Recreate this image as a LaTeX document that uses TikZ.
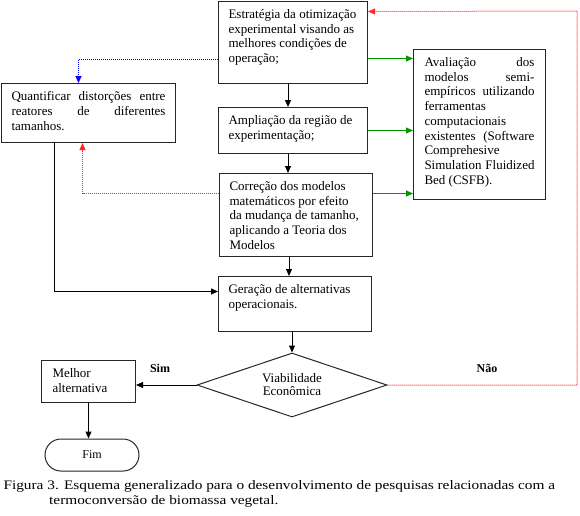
\documentclass[tikz,border=0pt]{standalone}
\usepackage{fontspec}
\setmainfont{Liberation Serif}
\newfontfamily\capfont[FakeStretch=1.18]{Liberation Serif}
\usetikzlibrary{arrows.meta,shapes.geometric}
\newcommand\bxt[3]{\parbox[c][#2][t]{#1}{\raggedright #3}}
\newcommand\jl[1]{\makebox[\linewidth][s]{#1}}
\definecolor{gr}{RGB}{0,150,0}
\definecolor{rd}{RGB}{255,40,40}
\definecolor{bl}{RGB}{0,0,255}
\tikzset{
  box/.style={draw=black!85, line width=1pt, inner xsep=10pt, inner ysep=8pt, anchor=north west, font=\fontsize{13}{14.7}\selectfont},
  arr/.style={-{Triangle[length=7pt,width=6pt]}, line width=1pt, black},
  garr/.style={-{Triangle[length=7pt,width=6pt]}, line width=1pt, gr},
  dotr/.style={-{Triangle[length=7pt,width=6pt]}, line width=1pt, rd, dash pattern=on 1pt off 1pt},
  dotb/.style={-{Triangle[length=7pt,width=6pt]}, line width=1pt, bl, dash pattern=on 1pt off 1pt},
  lbl/.style={font=\fontsize{12}{14}\selectfont\bfseries, inner sep=0pt}
}
\begin{document}
\begin{tikzpicture}[x=1pt,y=-1pt]
\useasboundingbox (0,0) rectangle (580,515);
\node[box] (b1) at (218,1) {\bxt{129pt}{66pt}{Estratégia da otimização\\experimental visando as\\melhores condições de\\operação;}};
\node[box] (b2) at (218,107) {\bxt{129pt}{30pt}{Ampliação da região de\\experimentação;}};
\node[box] (b3) at (219,173) {\bxt{133pt}{67pt}{Correção dos modelos\\matemáticos por efeito\\da mudança de tamanho,\\aplicando a Teoria dos\\Modelos}};
\node[box] (b4) at (218,276) {\bxt{133pt}{39pt}{Geração de alternativas\\operacionais.}};
\node[box] (q) at (1,83) {\bxt{154pt}{43pt}{\jl{Quantificar distorções entre}\\\jl{reatores de diferentes}\\tamanhos.}};
\node[box, inner xsep=11pt] (av) at (413,49) {\bxt{110pt}{134pt}{\jl{Avaliação dos}\\\jl{modelos semi-}\\\jl{empíricos utilizando}\\ferramentas\\computacionais\\\jl{existentes (Software}\\Comprehesive\\\jl{Simulation Fluidized}\\Bed (CSFB).}};
\node[box, inner xsep=11pt] (mel) at (41,360) {\bxt{72pt}{26pt}{Melhor\\alternativa}};
\node[draw=black!85, line width=1pt, rounded corners=16pt, minimum width=94pt, minimum height=32pt, inner sep=0pt, font=\fontsize{12}{14}\selectfont] (fim) at (92,455) {Fim};
\node[draw=black!85, line width=1pt, diamond, aspect=2.97, minimum width=190pt, minimum height=64pt, inner sep=0pt, align=center, font=\fontsize{13}{13}\selectfont] (dia) at (292,385) {Viabilidade\\Econômica};
\coordinate (cx) at (288,0);
\coordinate (rc) at (577,11);
\draw[arr] (b1.south -| cx) -- (b2.north -| cx);
\draw[arr] (b2.south -| cx) -- (b3.north -| cx);
\draw[arr] ([xshift=1pt]b3.south -| cx) -- ([xshift=1pt]b4.north -| cx);
\draw[arr] (b4.south -| dia.north) -- (dia.north);
\draw[garr] ([yshift=-16pt]b1.east) -- ([yshift=-16pt]b1.east -| av.west);
\draw[garr] (b2.east) -- (b2.east -| av.west);
\draw[garr] ([yshift=21.5pt]b3.east) -- ([yshift=21.5pt]b3.east -| av.west);
\draw[dotb] ([yshift=-17pt]b1.west) -| ([xshift=-10pt]q.north);
\draw[dotr] ([yshift=21.5pt]b3.west) -| ([xshift=-6pt]q.south);
\draw[arr] ([xshift=-34pt]q.south) |- ([yshift=12.5pt]b4.west);
\draw[dotr] (dia.east) -| (rc) -- ([yshift=31pt]b1.east);
\draw[arr] (dia.west) -- (dia.west -| mel.east);
\draw[arr] (mel.south) -- (mel.south |- fim.north);
\node[lbl] (sim) at (160,368) {Sim};
\node[lbl] (nao) at (487,368) {Não};
\node[anchor=north west, inner sep=0pt, align=left, font=\capfont\fontsize{13}{14.5}\selectfont] (cap) at (3.3,480.5) {Figura 3. Esquema generalizado para o desenvolvimento de pesquisas relacionadas com a\\\hspace*{45.7pt}termoconversão de biomassa vegetal.};
\end{tikzpicture}
\end{document}
